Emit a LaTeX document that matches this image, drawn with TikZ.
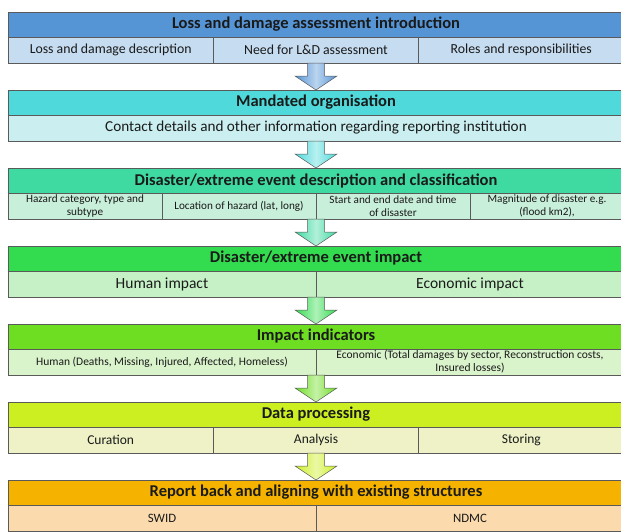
\documentclass[tikz,border=0pt]{standalone}
\usepackage{fontspec}
\setmainfont{Carlito}
\usetikzlibrary{positioning,calc}
\definecolor{cEdge}{HTML}{5A5A5A}
\definecolor{cText}{HTML}{1A1A1A}
\definecolor{cBlue}{HTML}{5595D6}
\definecolor{cBlueLt}{HTML}{C6DCF0}
\definecolor{cCyan}{HTML}{4FD9DA}
\definecolor{cCyanLt}{HTML}{CBEFF0}
\definecolor{cMint}{HTML}{3FDAA2}
\definecolor{cMintLt}{HTML}{C8EFDA}
\definecolor{cGreen}{HTML}{33DC4E}
\definecolor{cGreenLt}{HTML}{C6F0C6}
\definecolor{cLeaf}{HTML}{6EDE22}
\definecolor{cLeafLt}{HTML}{D9F3CB}
\definecolor{cLime}{HTML}{CCEF22}
\definecolor{cLimeLt}{HTML}{EEF2C6}
\definecolor{cOrange}{HTML}{F5B300}
\definecolor{cOrangeLt}{HTML}{FBDBAE}

\newcommand{\blockdown}[3]{%
  \path[draw=cEdge,line width=0.5pt,left color=#3,right color=#3,middle color=#3!40!white]
    ($(#1.south)+(-8.5,0)$) -- ($(#1.south)+(8.5,0)$) -- ($(#2.north)+(8.5,14)$)
    -- ($(#2.north)+(21,14)$) -- (#2.north) -- ($(#2.north)+(-21,14)$)
    -- ($(#2.north)+(-8.5,14)$) -- cycle;}

\begin{document}
\begin{tikzpicture}[x=1pt,y=1pt,text=cText,
      panel/.style={draw=cEdge,line width=0.8pt,minimum width=616pt,minimum height=51pt,
                    inner sep=0pt,outer sep=0pt},
      hdr/.style={draw=cEdge,line width=0.6pt,minimum width=616pt,minimum height=25pt,
                  inner sep=0pt,outer sep=0pt,font=\bfseries\fontsize{16.5}{17}\selectfont},
      cell/.style={draw=cEdge,line width=0.6pt,minimum height=26pt,inner sep=0pt,
                   outer sep=0pt,align=center,font=\fontsize{13.8}{15}\selectfont}]
    \useasboundingbox (0,0) rectangle (621,-531);
    \fill[white] (0,0) rectangle (621,-531);

    \node[panel] (p1) at (316,-37.5) {};
    \node[hdr,fill=cBlue,below=0pt of p1.north] (h1) {Loss and damage assessment introduction};
    \node[cell,fill=cBlueLt,minimum width=205.33pt,anchor=north west] (c11) at (h1.south west)
      {Loss and damage description};
    \node[cell,fill=cBlueLt,minimum width=205.33pt,right=0pt of c11] (c12) {Need for L\&D assessment};
    \node[cell,fill=cBlueLt,minimum width=205.33pt,right=0pt of c12] (c13) {Roles and responsibilities};

    \node[panel] (p2) at (316,-115.5) {};
    \node[hdr,fill=cCyan,below=0pt of p2.north] (h2) {Mandated organisation};
    \node[cell,fill=cCyanLt,minimum width=616pt,font=\fontsize{15.2}{16}\selectfont,below=0pt of h2] (c21)
      {Contact details and other information regarding reporting institution};

    \node[panel] (p3) at (316,-193.5) {};
    \node[hdr,fill=cMint,below=0pt of p3.north] (h3) {Disaster/extreme event description and classification};
    \node[cell,fill=cMintLt,minimum width=154pt,font=\fontsize{11.2}{12.5}\selectfont,anchor=north west] (c31)
      at (h3.south west) {Hazard category, type and\\subtype};
    \node[cell,fill=cMintLt,minimum width=154pt,font=\fontsize{11.2}{12.5}\selectfont,right=0pt of c31] (c32)
      {Location of hazard (lat, long)};
    \node[cell,fill=cMintLt,minimum width=154pt,font=\fontsize{11.2}{12.5}\selectfont,right=0pt of c32] (c33)
      {Start and end date and time\\of disaster};
    \node[cell,fill=cMintLt,minimum width=154pt,font=\fontsize{11.2}{12.5}\selectfont,right=0pt of c33] (c34)
      {Magnitude of disaster e.g.\\(flood km2),};

    \node[panel] (p4) at (316,-271.5) {};
    \node[hdr,fill=cGreen,below=0pt of p4.north] (h4) {Disaster/extreme event impact};
    \node[cell,fill=cGreenLt,minimum width=308pt,font=\fontsize{15.5}{16}\selectfont,anchor=north west] (c41)
      at (h4.south west) {Human impact};
    \node[cell,fill=cGreenLt,minimum width=308pt,font=\fontsize{15.5}{16}\selectfont,right=0pt of c41] (c42)
      {Economic impact};

    \node[panel] (p5) at (316,-349.5) {};
    \node[hdr,fill=cLeaf,below=0pt of p5.north] (h5) {Impact indicators};
    \node[cell,fill=cLeafLt,minimum width=308pt,font=\fontsize{11.5}{13}\selectfont,anchor=north west] (c51)
      at (h5.south west) {Human (Deaths, Missing, Injured, Affected, Homeless)};
    \node[cell,fill=cLeafLt,minimum width=308pt,font=\fontsize{11.5}{13}\selectfont,right=0pt of c51] (c52)
      {Economic (Total damages by sector, Reconstruction costs,\\Insured losses)};

    \node[panel] (p6) at (316,-427.5) {};
    \node[hdr,fill=cLime,below=0pt of p6.north] (h6) {Data processing};
    \node[cell,fill=cLimeLt,minimum width=205.33pt,font=\fontsize{13.5}{14}\selectfont,anchor=north west] (c61)
      at (h6.south west) {Curation};
    \node[cell,fill=cLimeLt,minimum width=205.33pt,font=\fontsize{13.5}{14}\selectfont,right=0pt of c61] (c62)
      {Analysis};
    \node[cell,fill=cLimeLt,minimum width=205.33pt,font=\fontsize{13.5}{14}\selectfont,right=0pt of c62] (c63)
      {Storing};

    \node[panel] (p7) at (316,-505.5) {};
    \node[hdr,fill=cOrange,below=0pt of p7.north] (h7) {Report back and aligning with existing structures};
    \node[cell,fill=cOrangeLt,minimum width=308pt,font=\fontsize{12.8}{14}\selectfont,anchor=north west] (c71)
      at (h7.south west) {SWID};
    \node[cell,fill=cOrangeLt,minimum width=308pt,font=\fontsize{12.8}{14}\selectfont,right=0pt of c71] (c72)
      {NDMC};

    \blockdown{p1}{p2}{cBlue}
    \blockdown{p2}{p3}{cCyan}
    \blockdown{p3}{p4}{cMint}
    \blockdown{p4}{p5}{cGreen}
    \blockdown{p5}{p6}{cLeaf}
    \blockdown{p6}{p7}{cLime}
  \end{tikzpicture}
\end{document}
